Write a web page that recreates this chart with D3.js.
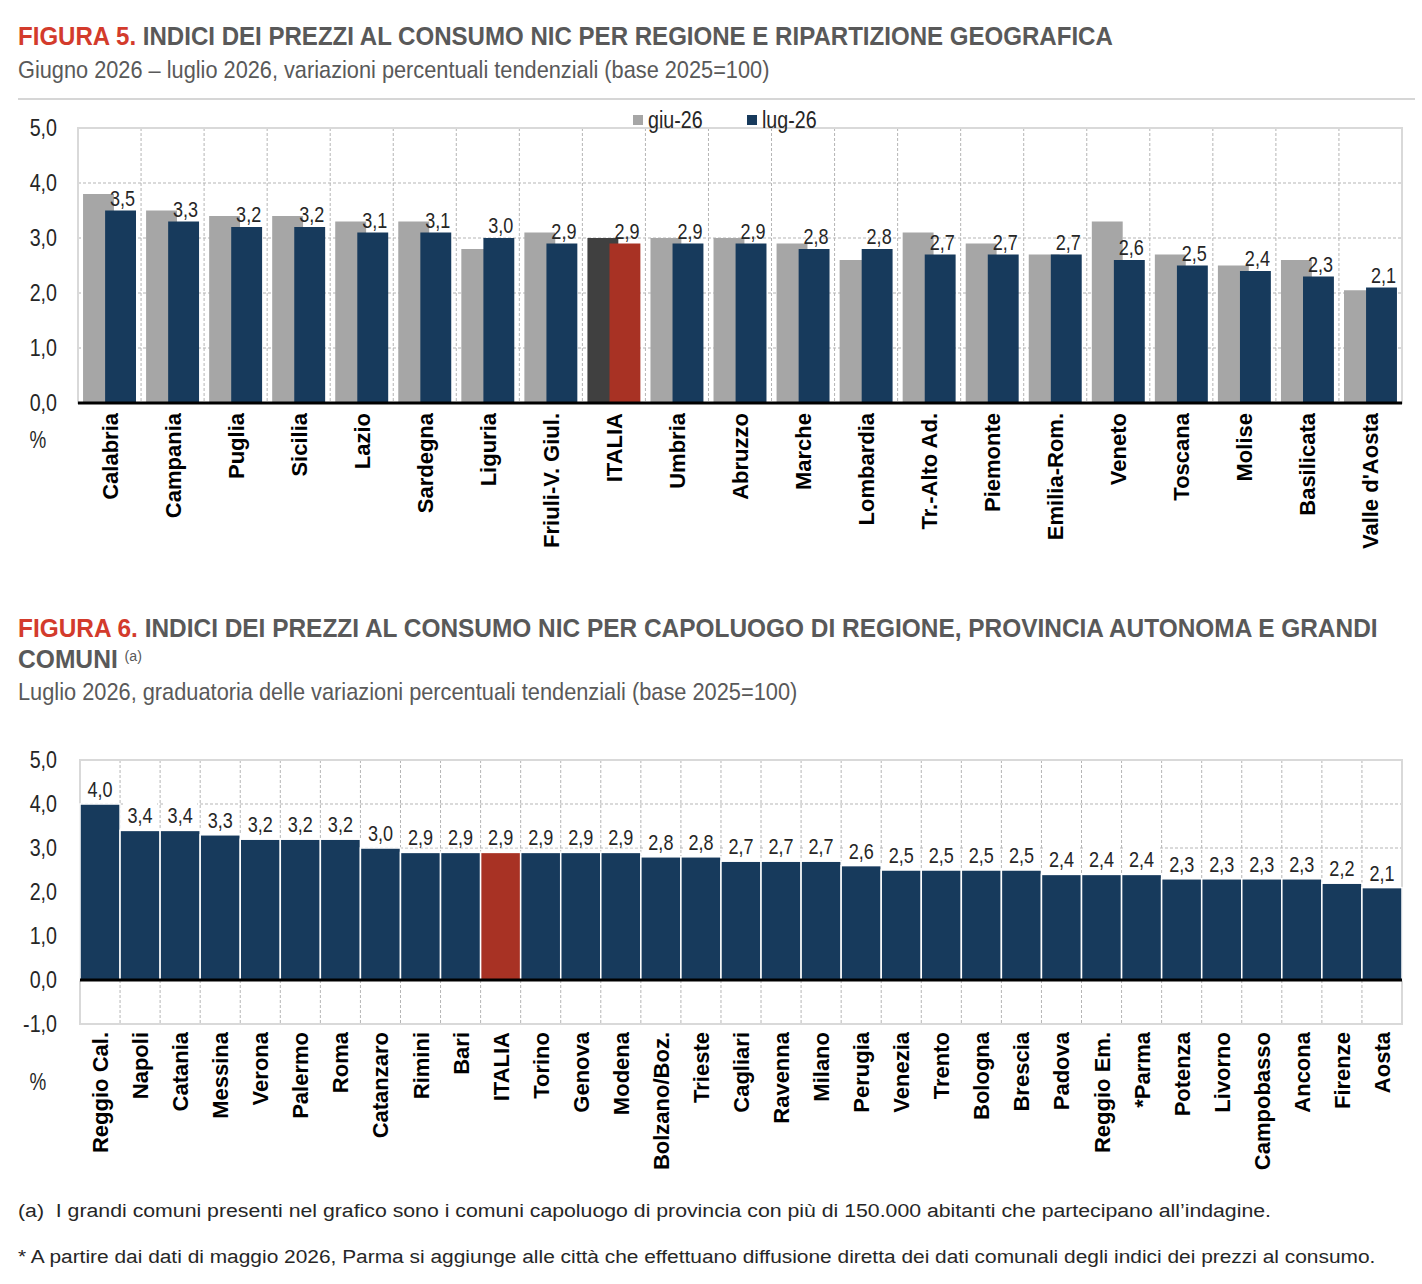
<!DOCTYPE html>
<html>
<head>
<meta charset="utf-8">
<script src="https://cdn.jsdelivr.net/npm/d3@7"></script>
<style>
  body { margin: 0; background: #fff; }
  svg { display: block; }
</style>
</head>
<body>
<svg id="chart" width="1422" height="1284"></svg>
<script>
// Figura 5: regioni, giugno e luglio 2026
const regions = ['Calabria', 'Campania', 'Puglia', 'Sicilia', 'Lazio', 'Sardegna', 'Liguria',
  'Friuli-V. Giul.', 'ITALIA', 'Umbria', 'Abruzzo', 'Marche', 'Lombardia', 'Tr.-Alto Ad.',
  'Piemonte', 'Emilia-Rom.', 'Veneto', 'Toscana', 'Molise', 'Basilicata', "Valle d'Aosta"];
const giu26 = [3.8, 3.5, 3.4, 3.4, 3.3, 3.3, 2.8, 3.1, 3.0, 3.0, 3.0, 2.9, 2.6, 3.1, 2.9, 2.7, 3.3, 2.7, 2.5, 2.6, 2.05];
const lug26 = [3.5, 3.3, 3.2, 3.2, 3.1, 3.1, 3.0, 2.9, 2.9, 2.9, 2.9, 2.8, 2.8, 2.7, 2.7, 2.7, 2.6, 2.5, 2.4, 2.3, 2.1];
const ticks1 = [0, 1, 2, 3, 4, 5];

// Figura 6: capoluoghi, luglio 2026
const cities = ['Reggio Cal.', 'Napoli', 'Catania', 'Messina', 'Verona', 'Palermo', 'Roma', 'Catanzaro',
  'Rimini', 'Bari', 'ITALIA', 'Torino', 'Genova', 'Modena', 'Bolzano/Boz.', 'Trieste', 'Cagliari',
  'Ravenna', 'Milano', 'Perugia', 'Venezia', 'Trento', 'Bologna', 'Brescia', 'Padova', 'Reggio Em.',
  '*Parma', 'Potenza', 'Livorno', 'Campobasso', 'Ancona', 'Firenze', 'Aosta'];
const citiesLug26 = [4.0, 3.4, 3.4, 3.3, 3.2, 3.2, 3.2, 3.0, 2.9, 2.9, 2.9, 2.9, 2.9, 2.9, 2.8, 2.8, 2.7,
  2.7, 2.7, 2.6, 2.5, 2.5, 2.5, 2.5, 2.4, 2.4, 2.4, 2.3, 2.3, 2.3, 2.3, 2.2, 2.1];
const ticks2 = [-1, 0, 1, 2, 3, 4, 5];

const FONT = "'Liberation Sans', Arial, sans-serif";
const NARROW_K = 0.82; // Arial Narrow ~ Arial stretta all'82%
const C = {
  red: '#d33b2c', title: '#595959', navy: '#173a5c', gray: '#a6a6a6',
  dark: '#404040', italia: '#a83224', grid: '#b5b5b5', frame: '#d9d9d9', text: '#262626'
};

const fmt = d3.formatLocale({ decimal: ',', thousands: '.', grouping: [3], currency: ['€', ''], minus: '-' }).format('.1f');

const svg = d3.select('#chart');

// comprime orizzontalmente un testo attorno al suo punto di ancoraggio
function condense(sel, k) {
  sel.each(function () {
    const x = +this.getAttribute('x') || 0, y = +this.getAttribute('y') || 0;
    d3.select(this).attr('x', 0).attr('y', 0)
      .attr('transform', `translate(${x},${y}) scale(${k},1)`);
  });
}

// stringe un testo fino alla larghezza voluta
function fit(sel, w) {
  sel.each(function () {
    condense(d3.select(this), w / this.getComputedTextLength());
  });
}

// titolo con prefisso rosso
function title(y, prefix, rest, w) {
  const t = svg.append('text')
    .attr('x', 18).attr('y', y)
    .style('font-family', FONT).style('font-weight', 'bold').style('font-size', '26px');
  t.append('tspan').attr('fill', C.red).text(prefix);
  t.append('tspan').attr('fill', C.title).text(rest);
  fit(t, w);
}

function subtitle(y, txt, w) {
  const t = svg.append('text')
    .attr('x', 18).attr('y', y)
    .attr('fill', C.title)
    .style('font-family', FONT).style('font-size', '24px')
    .text(txt);
  fit(t, w);
}

// griglia, cornice e asse y comuni ai due grafici
function frame(g, x, y, ticks) {
  const [x0, x1] = x.range();
  const [yb, yt] = y.range();

  g.append('g').selectAll('line')
    .data(ticks.filter(t => t !== 0 && y(t) !== yt && y(t) !== yb))
    .join('line')
    .attr('x1', x0).attr('x2', x1)
    .attr('y1', d => y(d)).attr('y2', d => y(d))
    .attr('stroke', C.grid).attr('stroke-dasharray', '3,2');

  g.append('g').selectAll('line')
    .data(x.domain().slice(1))
    .join('line')
    .attr('x1', d => x(d)).attr('x2', d => x(d))
    .attr('y1', yt).attr('y2', yb)
    .attr('stroke', C.grid).attr('stroke-dasharray', '3,2');

  g.append('rect')
    .attr('x', x0).attr('y', yt)
    .attr('width', x1 - x0).attr('height', yb - yt)
    .attr('fill', 'none').attr('stroke', C.frame).attr('stroke-width', 2);

  const axis = g.append('g')
    .attr('transform', 'translate(57,0)')
    .call(d3.axisLeft(y).tickValues(ticks).tickFormat(fmt).tickSize(0).tickPadding(0));
  axis.select('.domain').remove();
  axis.selectAll('text')
    .attr('fill', C.text)
    .style('font-family', FONT).style('font-size', '24px')
    .call(condense, NARROW_K);
}

function zeroLine(g, x, y) {
  g.append('line')
    .attr('x1', x.range()[0]).attr('x2', x.range()[1])
    .attr('y1', y(0)).attr('y2', y(0))
    .attr('stroke', '#000').attr('stroke-width', 3);
}

function xLabels(g, x, yTop) {
  g.append('g').selectAll('text')
    .data(x.domain())
    .join('text')
    .attr('transform', d => `translate(${x(d) + x.bandwidth() / 2 + 8},${yTop}) rotate(-90)`)
    .attr('text-anchor', 'end')
    .attr('fill', '#000')
    .style('font-family', FONT).style('font-weight', 'bold').style('font-size', '22px')
    .text(d => d);
}

function percent(y) {
  svg.append('text')
    .attr('x', 38).attr('y', y).attr('text-anchor', 'middle')
    .attr('fill', C.text).style('font-family', FONT).style('font-size', '23px')
    .text('%')
    .call(condense, NARROW_K);
}

// ---------- FIGURA 5 ----------
title(45, 'FIGURA 5. ', 'INDICI DEI PREZZI AL CONSUMO NIC PER REGIONE E RIPARTIZIONE GEOGRAFICA', 1095);
subtitle(78, 'Giugno 2026 – luglio 2026, variazioni percentuali tendenziali (base 2025=100)', 752);
svg.append('line')
  .attr('x1', 18).attr('x2', 1415).attr('y1', 99).attr('y2', 99)
  .attr('stroke', '#c8c8c8').attr('stroke-width', 1.5);

const x1 = d3.scaleBand().domain(regions).range([78, 1402]);
const y1 = d3.scaleLinear().domain([0, 5]).range([403, 128]);
const g1 = svg.append('g');
frame(g1, x1, y1, ticks1);

const bw1 = x1.bandwidth();
const barW = bw1 * 0.49;
const giuX = d => x1(d) + bw1 * 0.08;
const lugX = d => x1(d) + bw1 * 0.43;

g1.append('g').selectAll('rect')
  .data(regions)
  .join('rect')
  .attr('x', d => giuX(d))
  .attr('y', (d, i) => y1(giu26[i]))
  .attr('width', barW)
  .attr('height', (d, i) => y1(0) - y1(giu26[i]))
  .attr('fill', d => d === 'ITALIA' ? C.dark : C.gray);

g1.append('g').selectAll('rect')
  .data(regions)
  .join('rect')
  .attr('x', d => lugX(d))
  .attr('y', (d, i) => y1(lug26[i]))
  .attr('width', barW)
  .attr('height', (d, i) => y1(0) - y1(lug26[i]))
  .attr('fill', d => d === 'ITALIA' ? C.italia : C.navy);

g1.append('g').selectAll('text')
  .data(regions)
  .join('text')
  .attr('x', d => lugX(d) + barW / 2 + 2)
  .attr('y', (d, i) => y1(lug26[i]) - 5)
  .attr('text-anchor', 'middle')
  .attr('fill', C.text)
  .style('font-family', FONT).style('font-size', '22px')
  .text((d, i) => fmt(lug26[i]))
  .call(condense, NARROW_K);

zeroLine(g1, x1, y1);
xLabels(g1, x1, 413);
percent(448);

// legenda
const legend = svg.append('g').attr('transform', 'translate(633,120)');
[['giu-26', C.gray, 0], ['lug-26', C.navy, 114]].forEach(([lab, col, dx]) => {
  legend.append('rect').attr('x', dx).attr('y', -5).attr('width', 10).attr('height', 10).attr('fill', col);
  legend.append('text').attr('x', dx + 15).attr('y', 8)
    .attr('fill', C.text).style('font-family', FONT).style('font-size', '24px').text(lab)
    .call(condense, NARROW_K);
});

// ---------- FIGURA 6 ----------
title(637, 'FIGURA 6. ', 'INDICI DEI PREZZI AL CONSUMO NIC PER CAPOLUOGO DI REGIONE, PROVINCIA AUTONOMA E GRANDI', 1360);
const t6 = svg.append('text')
  .attr('x', 18).attr('y', 668)
  .attr('fill', C.title)
  .style('font-family', FONT).style('font-weight', 'bold').style('font-size', '26px');
t6.append('tspan').text('COMUNI ');
t6.append('tspan').style('font-size', '15px').style('font-weight', 'normal').attr('dy', -7).text('(a)');
fit(t6, 124);
subtitle(700, 'Luglio 2026, graduatoria delle variazioni percentuali tendenziali (base 2025=100)', 780);

const x2 = d3.scaleBand().domain(cities).range([80, 1402]);
const y2 = d3.scaleLinear().domain([-1, 5]).range([1024, 760]);
const g2 = svg.append('g');
frame(g2, x2, y2, ticks2);

g2.append('g').selectAll('rect')
  .data(cities)
  .join('rect')
  .attr('x', d => x2(d))
  .attr('y', (d, i) => y2(citiesLug26[i]))
  .attr('width', x2.bandwidth())
  .attr('height', (d, i) => y2(0) - y2(citiesLug26[i]))
  .attr('fill', d => d === 'ITALIA' ? C.italia : C.navy)
  .attr('stroke', '#fff').attr('stroke-width', 1.5);

const lab2 = g2.append('g').selectAll('g')
  .data(cities)
  .join('g')
  .attr('transform', (d, i) => `translate(${x2(d) + x2.bandwidth() / 2},${y2(citiesLug26[i]) - 7})`);
lab2.append('rect')
  .attr('x', -17).attr('y', -21).attr('width', 34).attr('height', 23)
  .attr('fill', '#fff');
lab2.append('text')
  .attr('text-anchor', 'middle')
  .attr('fill', C.text)
  .style('font-family', FONT).style('font-size', '22px')
  .text((d, i) => fmt(citiesLug26[i]))
  .call(condense, NARROW_K);

zeroLine(g2, x2, y2);
xLabels(g2, x2, 1032);
percent(1090);

// note
const notes = [
  [1217, 1254, '(a)  I grandi comuni presenti nel grafico sono i comuni capoluogo di provincia con più di 150.000 abitanti che partecipano all’indagine.'],
  [1263, 1358, '* A partire dai dati di maggio 2026, Parma si aggiunge alle città che effettuano diffusione diretta dei dati comunali degli indici dei prezzi al consumo.']
];
notes.forEach(([y, w, txt]) => {
  const t = svg.append('text')
    .attr('x', 18).attr('y', y)
    .attr('fill', C.text)
    .style('font-family', FONT).style('font-size', '19px')
    .style('white-space', 'pre')
    .text(txt);
  fit(t, w);
});
</script>
</body>
</html>
